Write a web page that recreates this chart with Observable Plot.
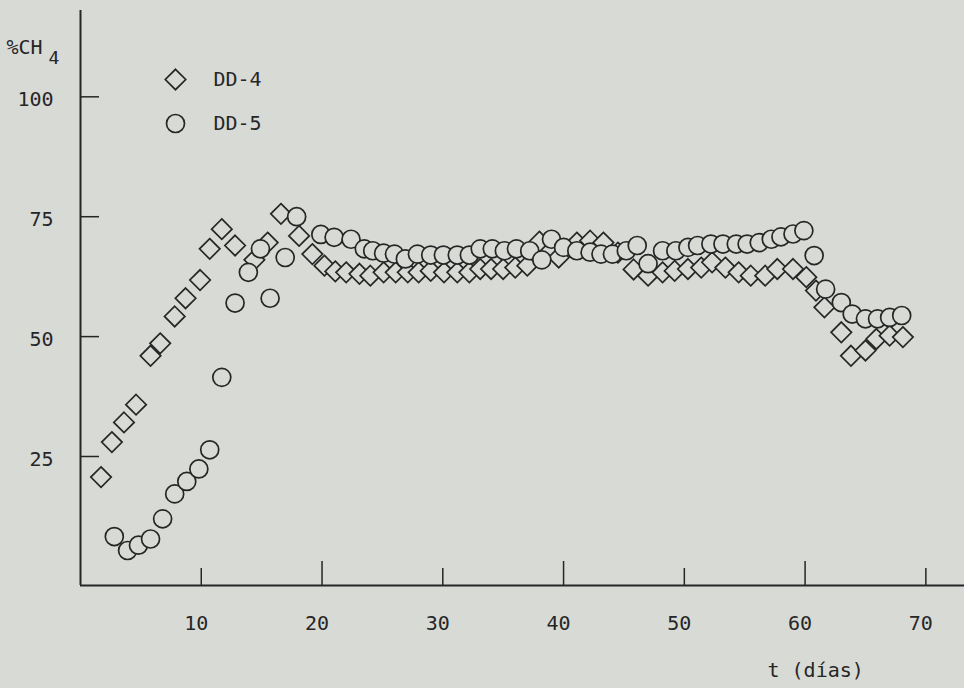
<!DOCTYPE html>
<html>
<head>
<meta charset="utf-8">
<script src="https://cdn.jsdelivr.net/npm/d3@7"></script>
<script src="https://cdn.jsdelivr.net/npm/@observablehq/plot@0.6"></script>
<style>
  html, body { margin: 0; padding: 0; background: #d8dad6; }
  #chart svg { display: block; }
</style>
</head>
<body>
<div id="chart"></div>
<script>
// ---- Data ----
const seriesNames = ["DD-4", "DD-5"];

const dd4Days = [1.7, 2.6, 3.6, 4.6, 5.8, 6.6, 7.8, 8.7, 9.9, 10.7, 11.7, 12.8, 14.4, 15.5, 16.6, 18.1, 19.2, 20.2, 21.1, 22.0,
  23.1, 24.0, 25.1, 26.1, 27.1, 28.0, 29.0, 30.1, 31.2, 32.2, 33.1, 34.0, 35.0, 36.0, 37.0, 38.0, 39.6, 41.1, 42.2, 43.3,
  44.5, 45.8, 47.0, 48.2, 49.2, 50.3, 51.4, 52.3, 53.4, 54.5, 55.5, 56.7, 57.7, 59.0, 60.1, 60.9, 61.6, 63.0, 63.8, 65.0,
  65.9, 67.0, 68.1];
const dd4CH4 = [20.7, 28.0, 32.1, 35.8, 46.0, 48.6, 54.2, 58.0, 61.8, 68.3, 72.4, 69.0, 66.0, 69.6, 75.6, 71.0, 67.2, 64.8, 63.6, 63.4,
  63.1, 62.7, 63.4, 63.4, 63.4, 63.4, 63.7, 63.4, 63.4, 63.4, 64.1, 64.1, 64.1, 64.4, 64.8, 69.8, 66.5, 69.6, 70.0, 69.6,
  67.5, 64.0, 62.7, 63.4, 63.7, 64.1, 64.4, 65.5, 64.4, 63.4, 62.7, 62.7, 64.1, 64.1, 62.4, 59.6, 56.1, 50.9, 46.0, 47.1,
  49.5, 50.2, 49.9];

const dd5Days = [2.8, 3.9, 4.8, 5.8, 6.8, 7.8, 8.8, 9.8, 10.7, 11.7, 12.8, 13.9, 14.9, 15.7, 16.95, 17.9, 19.9, 21.0, 22.4, 23.5,
  24.2, 25.1, 26.0, 26.9, 27.9, 29.0, 30.05, 31.2, 32.2, 33.1, 34.1, 35.1, 36.1, 37.2, 38.2, 39.0, 40.0, 41.1, 42.2, 43.1,
  44.05, 45.2, 46.1, 47.0, 48.2, 49.3, 50.3, 51.1, 52.2, 53.2, 54.3, 55.2, 56.2, 57.2, 58.0, 59.0, 59.9, 60.75, 61.7, 63.0,
  63.9, 65.0, 66.0, 67.0, 68.0];
const dd5CH4 = [8.3, 5.4, 6.5, 7.8, 12.0, 17.2, 19.8, 22.4, 26.4, 41.5, 57.0, 63.4, 68.3, 58.0, 66.5, 75.0, 71.3, 70.7, 70.3, 68.3,
  67.9, 67.4, 67.2, 66.2, 67.2, 67.0, 67.0, 67.0, 67.0, 68.3, 68.3, 67.9, 68.3, 67.9, 66.0, 70.3, 68.6, 67.9, 67.6, 67.2,
  67.2, 67.9, 69.0, 65.2, 67.9, 67.9, 68.6, 69.0, 69.3, 69.3, 69.3, 69.3, 69.6, 70.3, 70.8, 71.4, 72.1, 66.9, 59.9, 57.1,
  54.7, 53.7, 53.7, 54.0, 54.4];

const xTicks = [10, 20, 30, 40, 50, 60, 70];
const yTicks = [25, 50, 75, 100];
const xTitle = "t (días)";
const yTitleMain = "%CH";
const yTitleSub = "4";

// ---- Tables ----
const dd4 = dd4Days.map((t, i) => ({t, v: dd4CH4[i]}));
const dd5 = dd5Days.map((t, i) => ({t, v: dd5CH4[i]}));

// ---- Layout / style ----
const W = 964, H = 688;
const mL = 80, mR = 0, mT = 10, mB = 103;
const xDomain = [0, 73.2];
const yDomain = [-1.9, 118];
const pxPerX = (W - mL - mR) / (xDomain[1] - xDomain[0]);
const pxPerY = (H - mT - mB) / (yDomain[1] - yDomain[0]);
const ink = "#262626";
const paper = "#d8dad6";
const font = "'DejaVu Sans Mono', 'Liberation Mono', monospace";
const rCircle = 9;
const rDiamond = 9.2;

// legend placement (data space)
const legendT = (175 - mL) / pxPerX;
const legendV = [yDomain[0] + (H - mB - 79) / pxPerY, yDomain[0] + (H - mB - 123) / pxPerY];
const legend = seriesNames.map((name, i) => ({name, v: legendV[i]}));

const symStyle = {stroke: ink, strokeWidth: 1.7, fill: paper};

const chart = Plot.plot({
  width: W,
  height: H,
  marginLeft: mL, marginRight: mR, marginTop: mT, marginBottom: mB,
  style: {background: paper, fontFamily: font, fontSize: "20px", color: ink, overflow: "visible"},
  x: {domain: xDomain, axis: null},
  y: {domain: yDomain, axis: null},
  marks: [
    // axis lines
    Plot.ruleX([xDomain[0]], {y1: yDomain[0], y2: yDomain[1], stroke: ink, strokeWidth: 2}),
    Plot.ruleY([yDomain[0]], {x1: xDomain[0], x2: xDomain[1], stroke: ink, strokeWidth: 2}),
    // x ticks (inward, majors longer)
    Plot.ruleX(xTicks, {x: d => d, y1: yDomain[0], y2: d => yDomain[0] + (d % 20 === 0 ? 24 : 17) / pxPerY, stroke: ink, strokeWidth: 1.5}),
    Plot.text(xTicks, {x: d => d, y: yDomain[0], dy: 38, dx: -5, text: d => String(d), fill: ink}),
    // y ticks (inward)
    Plot.ruleY(yTicks, {y: d => d, x1: xDomain[0], x2: xDomain[0] + 19 / pxPerX, stroke: ink, strokeWidth: 1.5}),
    Plot.text(yTicks, {x: xDomain[0], y: d => d, dx: -27, dy: 3, textAnchor: "end", text: d => String(d), fill: ink}),
    // axis titles
    Plot.text([xTitle], {frameAnchor: "bottom-left", dx: 767 - mL, dy: 676 - (H - mB), textAnchor: "start", text: d => d, fill: ink}),
    Plot.text([yTitleMain], {frameAnchor: "top-left", dx: 6 - mL, dy: 39 - mT, textAnchor: "start", text: d => d, fill: ink}),
    Plot.text([yTitleSub], {frameAnchor: "top-left", dx: 48 - mL, dy: 51 - mT, textAnchor: "start", text: d => d, fill: ink, fontSize: 18}),
    // data
    Plot.dot(dd4, {x: "t", y: "v", symbol: "diamond2", r: rDiamond, ...symStyle}),
    Plot.dot(dd5, {x: "t", y: "v", symbol: "circle", r: rCircle, ...symStyle}),
    // legend
    Plot.dot(legend.slice(0, 1), {x: () => legendT, y: "v", symbol: "diamond2", r: rDiamond, ...symStyle}),
    Plot.dot(legend.slice(1, 2), {x: () => legendT, y: "v", symbol: "circle", r: rCircle, ...symStyle}),
    Plot.text(legend, {x: () => legendT, y: "v", dx: 38, textAnchor: "start", text: "name", fill: ink})
  ]
});
document.getElementById("chart").appendChild(chart);
</script>
</body>
</html>
